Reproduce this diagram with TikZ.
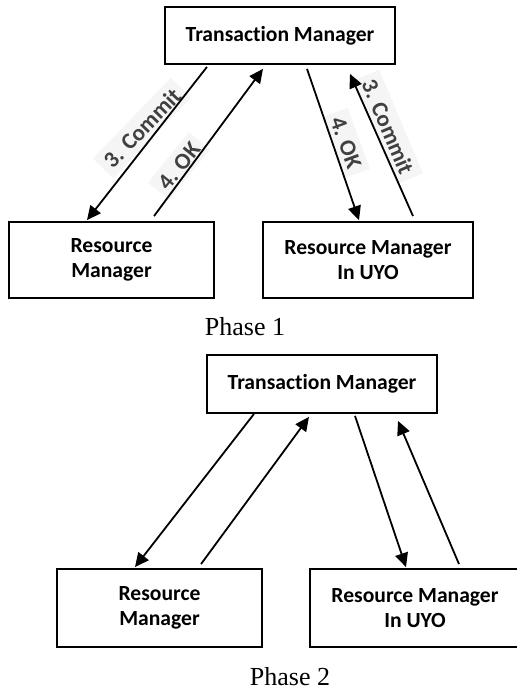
\documentclass[tikz,border=0pt]{standalone}
\usepackage{fontspec}
\setmainfont{Liberation Serif}
\newfontfamily\boxfont[Ligatures=NoCommon]{Carlito}
\usetikzlibrary{arrows.meta,calc}

\tikzset{
  mgrbox/.style={draw, line width=0.9pt, align=center, inner sep=2pt,
    font=\boxfont\bfseries\fontsize{10.8}{12.5}\selectfont},
  msg/.style={line width=0.9pt, -{Triangle[length=7pt,width=6.5pt]}},
  msglabel/.style={fill=black!4, text=black!75, inner sep=3pt,
    font=\boxfont\bfseries\fontsize{11.5}{13}\selectfont},
  phase/.style={font=\fontsize{13}{15}\selectfont}
}

\begin{document}
\begin{tikzpicture}[x=0.5pt, y=-0.5pt]
    \useasboundingbox (0,0) rectangle (517,689);

    % Phase 1
    \node[mgrbox, minimum width=115pt, minimum height=28.5pt] (tm1) at (280,35.5) {Transaction Manager};
    \node[mgrbox, minimum width=102.5pt, minimum height=38pt] (rm1) at (111.5,260) {Resource\\Manager};
    \node[mgrbox, minimum width=105pt, minimum height=38pt] (uyo1) at (368,260) {Resource Manager\\In UYO};

    % messages
    \node[msglabel, rotate=46] (commit1l) at (142,128) {3. Commit};
    \node[msglabel, rotate=51] (ok1l) at (179,166) {4. OK};
    \node[msglabel, rotate=-70] (ok1r) at (346,143) {4. OK};
    \node[msglabel, rotate=-67] (commit1r) at (388,127) {3. Commit};

    \draw[msg] ($(tm1.south)+(-73,2)$) -- ($(rm1.north)+(-24.5,-1)$);
    \draw[msg] ($(rm1.north)+(42.5,-5)$) -- ($(tm1.south)+(-17,4)$);
    \draw[msg] ($(tm1.south)+(27,4)$) -- ($(uyo1.north)+(-9,-1)$);
    \draw[msg] ($(uyo1.north)+(45,-5)$) -- ($(tm1.south)+(70,9)$);

    \node[phase] (phase1) at (245,327) {Phase 1};

    % Phase 2
    \node[mgrbox, minimum width=115pt, minimum height=29pt] (tm2) at (322,384) {Transaction Manager};
    \node[mgrbox, minimum width=102.5pt, minimum height=39pt] (rm2) at (159.5,608) {Resource\\Manager};
    \node[mgrbox, minimum width=105pt, minimum height=39pt] (uyo2) at (415,608) {Resource Manager\\In UYO};

    \draw[msg] ($(tm2.south)+(-68,0)$) -- ($(rm2.north)+(-24.5,-1)$);
    \draw[msg] ($(rm2.north)+(41.5,-4)$) -- ($(tm2.south)+(-13,3)$);
    \draw[msg] ($(tm2.south)+(33,2)$) -- ($(uyo2.north)+(-9,-1)$);
    \draw[msg] ($(uyo2.north)+(44,-4)$) -- ($(tm2.south)+(76,7)$);

    \node[phase] (phase2) at (290,677) {Phase 2};
\end{tikzpicture}
\end{document}
